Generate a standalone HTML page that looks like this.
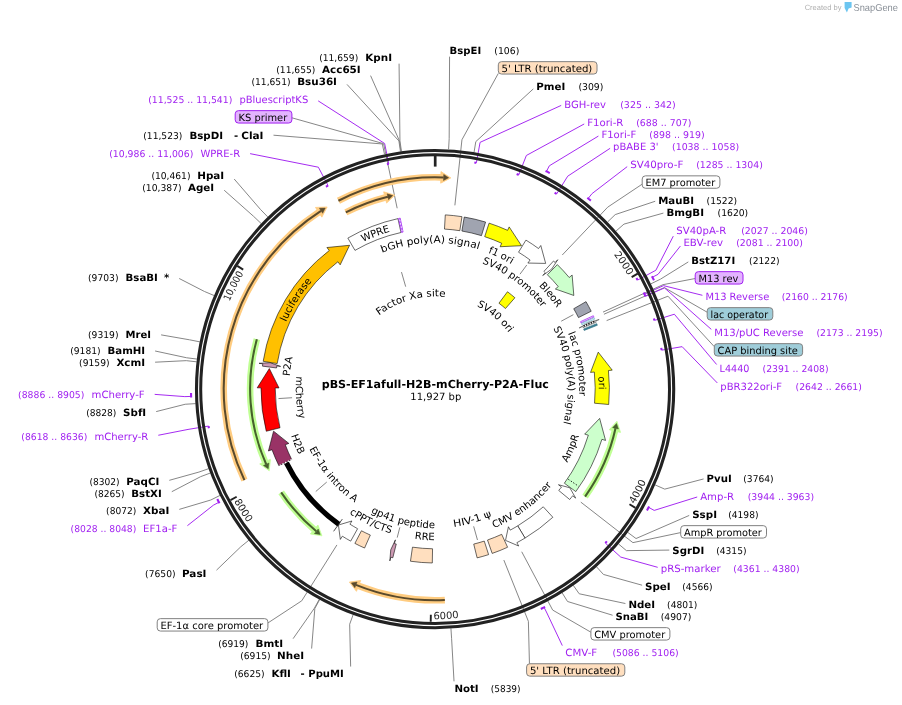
<!DOCTYPE html>
<html><head><meta charset="utf-8"><title>pBS-EF1afull-H2B-mCherry-P2A-Fluc</title>
<style>html,body{margin:0;padding:0;background:#fff}svg{display:block;will-change:transform}</style></head>
<body>
<svg width="902" height="705" viewBox="0 0 902 705" font-family='"DejaVu Sans","Liberation Sans",sans-serif' text-rendering="geometricPrecision">
<path d="M449.57 56.65L449.18 138.69L448.59 149.17" fill="none" stroke="#808080" stroke-width="0.95" stroke-linejoin="round"/>
<path d="M498.3 73.42L461.94 139.73L454.89 205.35" fill="none" stroke="#808080" stroke-width="0.95" stroke-linejoin="round"/>
<path d="M533.3 88.9L475.8 141.61L474.1 151.97" fill="none" stroke="#808080" stroke-width="0.95" stroke-linejoin="round"/>
<path d="M561.2 105.42L480.09 142.35L476.36 162.82" fill="none" stroke="#A020F0" stroke-width="0.95" stroke-linejoin="round"/>
<path d="M584.2 123.98L526.36 155.47L518.79 174.85" fill="none" stroke="#A020F0" stroke-width="0.95" stroke-linejoin="round"/>
<path d="M598.4 136.07L549.33 165.81L546.46 171.42" fill="none" stroke="#A020F0" stroke-width="0.95" stroke-linejoin="round"/>
<path d="M610.1 148.32L567.7 176.21L556.7 193.86" fill="none" stroke="#A020F0" stroke-width="0.95" stroke-linejoin="round"/>
<path d="M627.2 166.65L592.12 193.54L588.17 198.45" fill="none" stroke="#A020F0" stroke-width="0.95" stroke-linejoin="round"/>
<path d="M642.2 184.15L607.71 207.17L562.26 255.02" fill="none" stroke="#808080" stroke-width="0.95" stroke-linejoin="round"/>
<path d="M655.2 201.25L615.21 214.6L607.67 221.9" fill="none" stroke="#808080" stroke-width="0.95" stroke-linejoin="round"/>
<path d="M663.4 213.09L623.96 224.12L616.05 231.02" fill="none" stroke="#808080" stroke-width="0.95" stroke-linejoin="round"/>
<path d="M673.3 236.13L655.87 270.26L637.55 280.1" fill="none" stroke="#A020F0" stroke-width="0.95" stroke-linejoin="round"/>
<path d="M680.4 246.04L658.02 274.34L652.42 277.22" fill="none" stroke="#A020F0" stroke-width="0.95" stroke-linejoin="round"/>
<path d="M688.3 261.91L660.44 279.18L651 283.78" fill="none" stroke="#808080" stroke-width="0.95" stroke-linejoin="round"/>
<path d="M695.2 278.52L663.03 284.67L603.01 312.11" fill="none" stroke="#808080" stroke-width="0.95" stroke-linejoin="round"/>
<path d="M702.4 295.3L663.47 285.63L644.52 294.2" fill="none" stroke="#A020F0" stroke-width="0.95" stroke-linejoin="round"/>
<path d="M707.2 312.22L664.33 287.56L603.96 314.24" fill="none" stroke="#808080" stroke-width="0.95" stroke-linejoin="round"/>
<path d="M711.3 329.39L664.49 287.92L645.45 296.3" fill="none" stroke="#A020F0" stroke-width="0.95" stroke-linejoin="round"/>
<path d="M714.3 346.68L667.96 296.2L606.63 320.6" fill="none" stroke="#808080" stroke-width="0.95" stroke-linejoin="round"/>
<path d="M716.6 364.48L674.34 314.23L654.49 320.42" fill="none" stroke="#A020F0" stroke-width="0.95" stroke-linejoin="round"/>
<path d="M717.3 382.95L682.13 346.67L661.63 350.17" fill="none" stroke="#A020F0" stroke-width="0.95" stroke-linejoin="round"/>
<path d="M703.6 478.94L664.73 489.13L655.11 484.93" fill="none" stroke="#808080" stroke-width="0.95" stroke-linejoin="round"/>
<path d="M697.2 496.99L654.2 510.41L648.69 507.36" fill="none" stroke="#A020F0" stroke-width="0.95" stroke-linejoin="round"/>
<path d="M689.2 515.45L636.02 538.54L627.6 532.27" fill="none" stroke="#808080" stroke-width="0.95" stroke-linejoin="round"/>
<path d="M680.7 532.58L632.9 542.64L580.81 502.11" fill="none" stroke="#808080" stroke-width="0.95" stroke-linejoin="round"/>
<path d="M669.3 550.09L626.41 550.63L618.4 543.85" fill="none" stroke="#808080" stroke-width="0.95" stroke-linejoin="round"/>
<path d="M657.7 567.32L620.76 557.08L605.35 543.11" fill="none" stroke="#A020F0" stroke-width="0.95" stroke-linejoin="round"/>
<path d="M642.1 585.21L603.41 574.43L596.36 566.64" fill="none" stroke="#808080" stroke-width="0.95" stroke-linejoin="round"/>
<path d="M625.4 603.52L579.2 593.78L573.16 585.18" fill="none" stroke="#808080" stroke-width="0.95" stroke-linejoin="round"/>
<path d="M612.6 615.24L567.53 601.49L561.99 592.58" fill="none" stroke="#808080" stroke-width="0.95" stroke-linejoin="round"/>
<path d="M590.9 632.21L552.67 610.05L521.72 551.76" fill="none" stroke="#808080" stroke-width="0.95" stroke-linejoin="round"/>
<path d="M562.3 645.59L546.92 613.01L544.11 607.37" fill="none" stroke="#A020F0" stroke-width="0.95" stroke-linejoin="round"/>
<path d="M529.44 663.75L528.38 621.32L503.83 560.06" fill="none" stroke="#808080" stroke-width="0.95" stroke-linejoin="round"/>
<path d="M454.03 681.35L451.62 638.76L450.93 628.28" fill="none" stroke="#808080" stroke-width="0.95" stroke-linejoin="round"/>
<path d="M399.07 63.65L399.95 140.79L401.43 151.19" fill="none" stroke="#808080" stroke-width="0.95" stroke-linejoin="round"/>
<path d="M370.58 75.65L399.43 140.87L400.93 151.26" fill="none" stroke="#808080" stroke-width="0.95" stroke-linejoin="round"/>
<path d="M347 84.42L398.91 140.94L400.43 151.33" fill="none" stroke="#808080" stroke-width="0.95" stroke-linejoin="round"/>
<path d="M318.2 100.87L384.61 143.46L388.81 163.83" fill="none" stroke="#A020F0" stroke-width="0.95" stroke-linejoin="round"/>
<path d="M291.9 117.8L383.58 143.68L397.18 208.26" fill="none" stroke="#808080" stroke-width="0.95" stroke-linejoin="round"/>
<path d="M273.5 135.19L382.29 143.95L384.51 154.22" fill="none" stroke="#808080" stroke-width="0.95" stroke-linejoin="round"/>
<path d="M250.1 153.65L318.37 167.21L328.07 185.61" fill="none" stroke="#A020F0" stroke-width="0.95" stroke-linejoin="round"/>
<path d="M234.2 179.02L260.41 209.36L267.73 216.89" fill="none" stroke="#808080" stroke-width="0.95" stroke-linejoin="round"/>
<path d="M224.2 190.22L253.55 216.31L261.16 223.54" fill="none" stroke="#808080" stroke-width="0.95" stroke-linejoin="round"/>
<path d="M179.2 278.49L204.39 291.44L214.07 295.52" fill="none" stroke="#808080" stroke-width="0.95" stroke-linejoin="round"/>
<path d="M161.1 334.87L189.54 339.8L199.84 341.85" fill="none" stroke="#808080" stroke-width="0.95" stroke-linejoin="round"/>
<path d="M155.1 350.99L186.63 357.77L197.05 359.07" fill="none" stroke="#808080" stroke-width="0.95" stroke-linejoin="round"/>
<path d="M155.1 362.2L186.29 360.65L196.72 361.83" fill="none" stroke="#808080" stroke-width="0.95" stroke-linejoin="round"/>
<path d="M154.7 394.37L184.82 396.62L191.12 396.42" fill="none" stroke="#A020F0" stroke-width="0.95" stroke-linejoin="round"/>
<path d="M156.2 411.59L185.18 404.26L195.66 403.61" fill="none" stroke="#808080" stroke-width="0.95" stroke-linejoin="round"/>
<path d="M158.3 435.26L188.02 429.43L208.54 426.06" fill="none" stroke="#A020F0" stroke-width="0.95" stroke-linejoin="round"/>
<path d="M169.3 480.32L198.95 472.07L208.85 468.58" fill="none" stroke="#808080" stroke-width="0.95" stroke-linejoin="round"/>
<path d="M171.8 491.69L200.61 476.66L210.45 472.98" fill="none" stroke="#808080" stroke-width="0.95" stroke-linejoin="round"/>
<path d="M179.3 509.36L210.74 500.02L220.15 495.35" fill="none" stroke="#808080" stroke-width="0.95" stroke-linejoin="round"/>
<path d="M187.4 525.68L213.38 505.19L218.96 502.26" fill="none" stroke="#A020F0" stroke-width="0.95" stroke-linejoin="round"/>
<path d="M216.5 570.16L240.79 546.77L248.94 540.15" fill="none" stroke="#808080" stroke-width="0.95" stroke-linejoin="round"/>
<path d="M267.9 622.98L301.75 600.79L336.91 544.94" fill="none" stroke="#808080" stroke-width="0.95" stroke-linejoin="round"/>
<path d="M293.1 638.66L314.37 608.23L319.43 599.03" fill="none" stroke="#808080" stroke-width="0.95" stroke-linejoin="round"/>
<path d="M311.62 648.55L314.83 608.48L319.87 599.28" fill="none" stroke="#808080" stroke-width="0.95" stroke-linejoin="round"/>
<path d="M350.65 666.55L349.66 624.24L353.25 614.37" fill="none" stroke="#808080" stroke-width="0.95" stroke-linejoin="round"/>
<circle cx="435.09999999999997" cy="389.15000000000003" r="238.6" fill="none" stroke="#222" stroke-width="3.1"/>
<circle cx="435.09999999999997" cy="389.15000000000003" r="234.4" fill="none" stroke="#222" stroke-width="3.0"/>
<path d="M474.34 162.46A229.7 229.7 0 0 1 476.36 162.82" fill="none" stroke="#A020F0" stroke-width="2.1" stroke-linecap="butt"/>
<path d="M516.64 174.02A229.7 229.7 0 0 1 518.79 174.85" fill="none" stroke="#A020F0" stroke-width="2.1" stroke-linecap="butt"/>
<path d="M546.46 171.42A244.2 244.2 0 0 1 548.86 172.66" fill="none" stroke="#A020F0" stroke-width="2.1" stroke-linecap="square"/>
<path d="M554.64 192.59A229.7 229.7 0 0 1 556.7 193.86" fill="none" stroke="#A020F0" stroke-width="2.1" stroke-linecap="butt"/>
<path d="M588.17 198.45A244.2 244.2 0 0 1 590.07 199.99" fill="none" stroke="#A020F0" stroke-width="2.1" stroke-linecap="square"/>
<path d="M636.45 278.08A229.7 229.7 0 0 1 637.55 280.1" fill="none" stroke="#A020F0" stroke-width="2.1" stroke-linecap="butt"/>
<path d="M652.42 277.22A244.2 244.2 0 0 1 653.52 279.4" fill="none" stroke="#A020F0" stroke-width="2.1" stroke-linecap="square"/>
<path d="M643.71 292.44A229.7 229.7 0 0 1 644.52 294.2" fill="none" stroke="#A020F0" stroke-width="2.1" stroke-linecap="butt"/>
<path d="M644.37 293.87A229.7 229.7 0 0 1 645.45 296.3" fill="none" stroke="#A020F0" stroke-width="2.1" stroke-linecap="butt"/>
<path d="M653.87 318.46A229.7 229.7 0 0 1 654.49 320.42" fill="none" stroke="#A020F0" stroke-width="2.1" stroke-linecap="butt"/>
<path d="M661.23 347.91A229.7 229.7 0 0 1 661.63 350.17" fill="none" stroke="#A020F0" stroke-width="2.1" stroke-linecap="butt"/>
<path d="M648.69 507.36A244.2 244.2 0 0 1 647.49 509.49" fill="none" stroke="#A020F0" stroke-width="2.1" stroke-linecap="square"/>
<path d="M606.89 541.4A229.7 229.7 0 0 1 605.35 543.11" fill="none" stroke="#A020F0" stroke-width="2.1" stroke-linecap="butt"/>
<path d="M544.11 607.37A244.2 244.2 0 0 1 541.8 608.5" fill="none" stroke="#A020F0" stroke-width="2.1" stroke-linecap="square"/>
<path d="M386.92 164.23A229.7 229.7 0 0 1 388.81 163.83" fill="none" stroke="#A020F0" stroke-width="2.1" stroke-linecap="butt"/>
<path d="M325.94 186.75A229.7 229.7 0 0 1 328.07 185.61" fill="none" stroke="#A020F0" stroke-width="2.1" stroke-linecap="butt"/>
<path d="M191.12 396.42A244.2 244.2 0 0 1 191.05 393.98" fill="none" stroke="#A020F0" stroke-width="2.1" stroke-linecap="square"/>
<path d="M208.9 428.2A229.7 229.7 0 0 1 208.54 426.06" fill="none" stroke="#A020F0" stroke-width="2.1" stroke-linecap="butt"/>
<path d="M218.96 502.26A244.2 244.2 0 0 1 217.78 499.98" fill="none" stroke="#A020F0" stroke-width="2.1" stroke-linecap="square"/>
<path d="M435.2 166.6L435.2 155.8" stroke="#222" stroke-width="2.7"/>
<path d="M631.64 277.06L637.73 273.6" stroke="#222" stroke-width="1.9"/>
<path id="tk1" d="M524.67 183.99A223.5 223.5 0 0 1 627.97 275.7" fill="none"/>
<text font-size="10" fill="#222"><textPath href="#tk1" startOffset="100%" text-anchor="end">2000</textPath></text>
<path d="M629.46 504.3L635.47 507.88" stroke="#222" stroke-width="1.9"/>
<path id="tk2" d="M634.61 504.22A230.4 230.4 0 0 0 664.36 364.97" fill="none"/>
<text font-size="10" fill="#222"><textPath href="#tk2" startOffset="0">4000</textPath></text>
<path d="M430.85 614.76L430.72 621.76" stroke="#222" stroke-width="1.9"/>
<path id="tk3" d="M433.47 619.19A230.4 230.4 0 0 0 569.22 576.21" fill="none"/>
<text font-size="10" fill="#222"><textPath href="#tk3" startOffset="0">6000</textPath></text>
<path d="M236.65 496.75L230.5 500.09" stroke="#222" stroke-width="1.9"/>
<path id="tk4" d="M234.08 501.21A230.4 230.4 0 0 0 338.57 597.96" fill="none"/>
<text font-size="10" fill="#222"><textPath href="#tk4" startOffset="0">8000</textPath></text>
<path d="M243.2 269.59L237.25 265.89" stroke="#222" stroke-width="1.9"/>
<path id="tk5" d="M212.53 408.02A223.5 223.5 0 0 1 243.76 273.46" fill="none"/>
<text font-size="10" fill="#222" textLength="31.6" lengthAdjust="spacingAndGlyphs"><textPath href="#tk5" startOffset="100%" text-anchor="end" textLength="31.6" lengthAdjust="spacingAndGlyphs">10,000</textPath></text>
<path d="M244.42 480.1A211.5 211.5 0 0 1 318.68 212.29" fill="none" stroke="#FFCC80" stroke-width="6.6" stroke-linecap="butt"/>
<path d="M315.48 207.45L327.15 206.98L321.87 217.13Z" fill="#FFCC80" stroke="#FFCC80" stroke-width="0.8" stroke-linejoin="round"/>
<path d="M244.42 480.1A211.5 211.5 0 0 1 321.02 210.77" fill="none" stroke="#5a4a2c" stroke-width="2.05"/>
<path d="M319.4 208.24L325.26 208.12L322.64 213.29Z" fill="#5a4a2c" stroke="#5a4a2c" stroke-width="0.5" stroke-linejoin="miter"/>
<path d="M338.44 200.73A211.5 211.5 0 0 1 440.82 177.37" fill="none" stroke="#FFCC80" stroke-width="6.6" stroke-linecap="butt"/>
<path d="M440.97 171.58L450.8 177.88L440.66 183.17Z" fill="#FFCC80" stroke="#FFCC80" stroke-width="0.8" stroke-linejoin="round"/>
<path d="M338.44 200.73A211.5 211.5 0 0 1 443.61 177.47" fill="none" stroke="#5a4a2c" stroke-width="2.05"/>
<path d="M443.73 174.47L448.61 177.73L443.49 180.47Z" fill="#5a4a2c" stroke="#5a4a2c" stroke-width="0.5" stroke-linejoin="miter"/>
<path d="M345.82 212.35A197.8 197.8 0 0 1 385.14 197.44" fill="none" stroke="#FFCC80" stroke-width="6.6" stroke-linecap="butt"/>
<path d="M383.67 191.83L394.87 195.15L386.61 203.05Z" fill="#FFCC80" stroke="#FFCC80" stroke-width="0.8" stroke-linejoin="round"/>
<path d="M345.82 212.35A197.8 197.8 0 0 1 387.85 196.75" fill="none" stroke="#5a4a2c" stroke-width="2.05"/>
<path d="M387.14 193.84L392.72 195.61L388.57 199.66Z" fill="#5a4a2c" stroke="#5a4a2c" stroke-width="0.5" stroke-linejoin="miter"/>
<path d="M444.83 600.08A211.5 211.5 0 0 1 358.56 585.92" fill="none" stroke="#FFCC80" stroke-width="6.6" stroke-linecap="butt"/>
<path d="M356.46 591.33L349.33 582.08L360.66 580.52Z" fill="#FFCC80" stroke="#FFCC80" stroke-width="0.8" stroke-linejoin="round"/>
<path d="M444.83 600.08A211.5 211.5 0 0 1 355.95 584.89" fill="none" stroke="#5a4a2c" stroke-width="2.05"/>
<path d="M354.83 587.67L351.34 582.96L357.08 582.11Z" fill="#5a4a2c" stroke="#5a4a2c" stroke-width="0.5" stroke-linejoin="miter"/>
<path d="M585.08 496.56A184.6 184.6 0 0 0 614.89 431.07" fill="none" stroke="#C0FF94" stroke-width="6.6" stroke-linecap="butt"/>
<path d="M620.54 432.4L616.92 421.28L609.25 429.74Z" fill="#C0FF94" stroke="#C0FF94" stroke-width="0.8" stroke-linejoin="round"/>
<path d="M585.08 496.56A184.6 184.6 0 0 0 615.52 428.34" fill="none" stroke="#46602c" stroke-width="2.05"/>
<path d="M618.45 428.98L616.52 423.44L612.59 427.7Z" fill="#46602c" stroke="#46602c" stroke-width="0.5" stroke-linejoin="miter"/>
<path d="M281.16 492.33A185.6 185.6 0 0 0 314.17 529.51" fill="none" stroke="#C0FF94" stroke-width="6.6" stroke-linecap="butt"/>
<path d="M310.39 533.91L321.93 535.83L317.96 525.12Z" fill="#C0FF94" stroke="#C0FF94" stroke-width="0.8" stroke-linejoin="round"/>
<path d="M281.16 492.33A185.6 185.6 0 0 0 316.31 531.32" fill="none" stroke="#46602c" stroke-width="2.05"/>
<path d="M314.39 533.63L320.19 534.47L318.23 529.02Z" fill="#46602c" stroke="#46602c" stroke-width="0.5" stroke-linejoin="miter"/>
<path d="M256.86 339.22A185.1 185.1 0 0 0 265.05 461.68" fill="none" stroke="#C0FF94" stroke-width="6.6" stroke-linecap="butt"/>
<path d="M259.72 463.96L269.23 470.76L270.38 459.39Z" fill="#C0FF94" stroke="#C0FF94" stroke-width="0.8" stroke-linejoin="round"/>
<path d="M256.86 339.22A185.1 185.1 0 0 0 266.17 464.24" fill="none" stroke="#46602c" stroke-width="2.05"/>
<path d="M263.43 465.46L268.27 468.78L268.91 463.02Z" fill="#46602c" stroke="#46602c" stroke-width="0.5" stroke-linejoin="miter"/>
<path d="M445.29 214.89A174.2 174.2 0 0 1 461.98 216.67L459.8 230.7A160 160 0 0 0 444.47 229.07Z" fill="#FFDFBF" stroke="#000" stroke-opacity="0.58" stroke-width="1" stroke-linejoin="miter" />
<path d="M464.25 217.04A174.2 174.2 0 0 1 485.59 222.05L481.48 235.64A160 160 0 0 0 461.88 231.04Z" fill="#A0A4B0" stroke="#000" stroke-opacity="0.58" stroke-width="1" stroke-linejoin="miter" />
<path d="M489.09 223.14A174.2 174.2 0 0 1 507.59 230.35L509.17 226.9L521.49 245.7L500.11 246.73L501.69 243.27A160 160 0 0 0 484.69 236.65Z" fill="#FFFF00" stroke="#000" stroke-opacity="0.58" stroke-width="1" stroke-linejoin="miter"/>
<path d="M525.94 240.1A174.2 174.2 0 0 1 538.54 248.56L540.79 245.5L545.67 263.42L527.86 263.05L530.12 259.99A160 160 0 0 0 518.54 252.22Z" fill="#FFFFFF" stroke="#000" stroke-opacity="0.58" stroke-width="1" stroke-linejoin="miter"/>
<path d="M553.56 260.99A174.2 174.2 0 0 1 555.13 262.46L557.75 259.7L551.74 269.04L542.74 275.51L545.36 272.76A160 160 0 0 0 543.91 271.4Z" fill="#FFFFFF" stroke="#000" stroke-opacity="0.58" stroke-width="1" stroke-linejoin="miter"/>
<path d="M557.34 264.6A174.2 174.2 0 0 1 569.2 277.49L572.13 275.07L573.82 295.48L555.36 288.99L558.28 286.57A160 160 0 0 0 547.39 274.72Z" fill="#CCFFCC" stroke="#000" stroke-opacity="0.58" stroke-width="1" stroke-linejoin="miter"/>
<path d="M586.02 301.63A174.2 174.2 0 0 1 591.19 311.25L578.47 317.58A160 160 0 0 0 573.73 308.74Z" fill="#A0A4B0" stroke="#000" stroke-opacity="0.58" stroke-width="1" stroke-linejoin="miter" />
<path d="M593.33 315.72A174.2 174.2 0 0 1 593.94 317.06L581 322.91A160 160 0 0 0 580.44 321.68Z" fill="#EBD6FF" stroke="#A020F0" stroke-width="0.7" stroke-linejoin="miter" />
<path d="M594.24 317.73A174.2 174.2 0 0 1 594.84 319.07L581.82 324.75A160 160 0 0 0 581.28 323.52Z" fill="#E6F4F8" stroke="#6fb2c6" stroke-width="0.7" stroke-linejoin="miter" />
<path d="M596.2 322.28A174.2 174.2 0 0 0 595.67 321.01L599.17 319.53L588.61 322.56L579.09 328.01L582.59 326.54A160 160 0 0 1 583.08 327.7Z" fill="#FFFFFF" stroke="#000" stroke-opacity="0.58" stroke-width="0.7" stroke-linejoin="miter"/>
<path d="M583.51 326.15L594.93 321.32" stroke="#222" stroke-width="1.7" stroke-dasharray="1.5 1.1"/>
<path d="M596.75 323.64A174.2 174.2 0 0 1 597.4 325.26L584.18 330.44A160 160 0 0 0 583.58 328.95Z" fill="#3d8296" stroke="#2a6a7c" stroke-width="0.6" stroke-linejoin="miter" />
<path d="M608.69 404.49A174.2 174.2 0 0 0 608.44 370.54L612.22 370.14L598.23 352.15L590.54 372.42L594.32 372.03A160 160 0 0 1 594.55 403.21Z" fill="#FFFF00" stroke="#000" stroke-opacity="0.58" stroke-width="1" stroke-linejoin="miter"/>
<path d="M575.83 491.6A174.2 174.2 0 0 0 601.91 439.33L605.55 440.43L599.65 418.42L584.68 434.11L588.32 435.21A160 160 0 0 1 564.37 483.22Z" fill="#CCFFCC" stroke="#000" stroke-opacity="0.58" stroke-width="1" stroke-linejoin="miter"/>
<path d="M569.7 499.51A174.2 174.2 0 0 0 572.68 495.78L575.68 498.11L569.84 487.77L558.48 484.73L561.47 487.06A160 160 0 0 1 558.74 490.48Z" fill="#FFFFFF" stroke="#000" stroke-opacity="0.58" stroke-width="1" stroke-linejoin="miter"/>
<path d="M552.85 517.27A174.2 174.2 0 0 1 525.03 538.05L517.71 525.88A160 160 0 0 0 543.26 506.8Z" fill="#FFFFFF" stroke="#000" stroke-opacity="0.58" stroke-width="1" stroke-linejoin="miter" />
<path d="M525.03 538.05A174.2 174.2 0 0 1 516.89 542.66L518.67 546.02L505.52 540.38L508.45 526.76L510.23 530.12A160 160 0 0 0 517.71 525.88Z" fill="#FFFFFF" stroke="#000" stroke-opacity="0.58" stroke-width="1" stroke-linejoin="miter"/>
<path d="M507.59 547.25A174.2 174.2 0 0 1 492.18 553.42L487.53 540A160 160 0 0 0 501.69 534.33Z" fill="#FFDFBF" stroke="#000" stroke-opacity="0.58" stroke-width="1" stroke-linejoin="miter" />
<path d="M488.61 554.61A174.2 174.2 0 0 1 477.14 557.88L473.72 544.09A160 160 0 0 0 484.25 541.09Z" fill="#FFDFBF" stroke="#000" stroke-opacity="0.58" stroke-width="1" stroke-linejoin="miter" />
<path d="M432.31 562.98A174.2 174.2 0 0 1 410.46 561.23L412.48 547.18A160 160 0 0 0 432.55 548.78Z" fill="#FFDFBF" stroke="#000" stroke-opacity="0.58" stroke-width="1" stroke-linejoin="miter" />
<path d="M392.82 557.77A174.2 174.2 0 0 1 390.82 557.25L389.85 560.93L390.72 549.87L395.41 539.85L394.44 543.52A160 160 0 0 0 396.27 543.99Z" fill="#CC99B2" stroke="#000" stroke-opacity="0.58" stroke-width="1" stroke-linejoin="miter"/>
<path d="M364.57 548.04A174.2 174.2 0 0 1 354.89 543.38L361.44 530.78A160 160 0 0 0 370.32 535.06Z" fill="#FFDFBF" stroke="#000" stroke-opacity="0.58" stroke-width="1" stroke-linejoin="miter" />
<path d="M350.69 541.13A174.2 174.2 0 0 1 342.36 536.2L340.33 539.41L338.43 525.02L351.95 520.97L349.93 524.18A160 160 0 0 0 357.58 528.71Z" fill="#FFFFFF" stroke="#000" stroke-opacity="0.58" stroke-width="1" stroke-linejoin="miter"/>
<path d="M338.95 524.29A166.2 166.2 0 0 1 286.36 462.75" fill="none" stroke="#000" stroke-width="5.2"/>
<path d="M342.33 519.09L333.62 531.3" stroke="#222" stroke-width="0.8"/>
<path d="M278.95 465.81A174.2 174.2 0 0 1 271.99 449.68L268.43 451.01L273.55 431.14L288.85 443.39L285.29 444.72A160 160 0 0 0 291.68 459.53Z" fill="#993366" stroke="#000" stroke-opacity="0.58" stroke-width="1" stroke-linejoin="miter"/>
<path d="M291.68 459.53L278.95 465.81" stroke="#fff" stroke-width="1.3" stroke-dasharray="1.4 1.6"/>
<path d="M266.25 431.25A174.2 174.2 0 0 1 261 387.85L257.2 387.83L269.33 368.54L279 387.95L275.2 387.93A160 160 0 0 0 280.02 427.79Z" fill="#FF0000" stroke="#000" stroke-opacity="0.58" stroke-width="1" stroke-linejoin="miter"/>
<path d="M262.48 366.13A174.2 174.2 0 0 1 262.8 363.86L259.03 363.31L270.15 362.7L280.61 366.43L276.85 365.89A160 160 0 0 0 276.56 367.98Z" fill="#CC99B2" stroke="#000" stroke-opacity="0.58" stroke-width="1" stroke-linejoin="miter"/>
<path d="M263.18 361.32A174.2 174.2 0 0 1 329.23 250.54L326.92 247.53L349.59 245.29L340.18 264.83L337.87 261.81A160 160 0 0 0 277.2 363.56Z" fill="#FFC000" stroke="#000" stroke-opacity="0.58" stroke-width="1" stroke-linejoin="miter"/>
<path d="M347.86 238.08A174.2 174.2 0 0 1 397.96 218.63L400.99 232.5A160 160 0 0 0 354.98 250.37Z" fill="#FFFFFF" stroke="#000" stroke-opacity="0.58" stroke-width="1" stroke-linejoin="miter" />
<path d="M398.58 218.49A174.2 174.2 0 0 1 400.2 218.15L403.05 232.06A160 160 0 0 0 401.57 232.37Z" fill="#C890FF" stroke="#A020F0" stroke-width="0.8" stroke-linejoin="miter" />
<path d="M402.11 231.24L399.6 219.3" stroke="#f0e0ff" stroke-width="1.1" stroke-dasharray="1.6 1.8"/>
<path d="M507.47 291.75A121 121 0 0 1 514.9 297.76L505.48 308.52A106.7 106.7 0 0 0 498.93 303.22Z" fill="#FFFF00" stroke="#000" stroke-opacity="0.58" stroke-width="1" stroke-linejoin="miter" />
<path d="M568.35 479.31L578.44 486.17" stroke="#000" stroke-width="1" stroke-dasharray="1.2 1.8"/>
<text x="449.6" y="53.8" font-size="10" fill="#000" font-weight="bold" textLength="31.6" lengthAdjust="spacingAndGlyphs">BspEI</text>
<text x="494.3" y="53.8" font-size="9.33" fill="#000" textLength="25" lengthAdjust="spacingAndGlyphs">(106)</text>
<rect x="498.3" y="61.65" width="98.7" height="12.4" rx="3.2" fill="#FFDFBF" stroke="#808080" stroke-width="1"/>
<text x="501.6" y="71.6" font-size="10" fill="#000" textLength="90.7" lengthAdjust="spacingAndGlyphs">5' LTR (truncated)</text>
<text x="536.3" y="89.8" font-size="10" fill="#000" font-weight="bold" textLength="29" lengthAdjust="spacingAndGlyphs">PmeI</text>
<text x="578.4" y="89.8" font-size="9.33" fill="#000" textLength="25" lengthAdjust="spacingAndGlyphs">(309)</text>
<text x="564.2" y="107.7" font-size="10" fill="#A020F0" textLength="41.8" lengthAdjust="spacingAndGlyphs">BGH-rev</text>
<text x="620.2" y="107.7" font-size="9.33" fill="#A020F0" textLength="55.4" lengthAdjust="spacingAndGlyphs">(325 .. 342)</text>
<text x="587.2" y="126" font-size="10" fill="#A020F0" textLength="36.2" lengthAdjust="spacingAndGlyphs">F1ori-R</text>
<text x="636.2" y="126" font-size="9.33" fill="#A020F0" textLength="55.3" lengthAdjust="spacingAndGlyphs">(688 .. 707)</text>
<text x="601.4" y="137.9" font-size="10" fill="#A020F0" textLength="34.8" lengthAdjust="spacingAndGlyphs">F1ori-F</text>
<text x="649.3" y="137.9" font-size="9.33" fill="#A020F0" textLength="55.4" lengthAdjust="spacingAndGlyphs">(898 .. 919)</text>
<text x="613.1" y="150" font-size="10" fill="#A020F0" textLength="45.4" lengthAdjust="spacingAndGlyphs">pBABE 3'</text>
<text x="672" y="150" font-size="9.33" fill="#A020F0" textLength="67.1" lengthAdjust="spacingAndGlyphs">(1038 .. 1058)</text>
<text x="630.2" y="168" font-size="10" fill="#A020F0" textLength="53.2" lengthAdjust="spacingAndGlyphs">SV40pro-F</text>
<text x="696.2" y="168" font-size="9.33" fill="#A020F0" textLength="66.6" lengthAdjust="spacingAndGlyphs">(1285 .. 1304)</text>
<rect x="642.2" y="175.85" width="77.7" height="12.4" rx="3.2" fill="#FFFFFF" stroke="#808080" stroke-width="1"/>
<text x="645.5" y="185.8" font-size="10" fill="#000" textLength="69.7" lengthAdjust="spacingAndGlyphs">EM7 promoter</text>
<text x="658.2" y="203.9" font-size="10" fill="#000" font-weight="bold" textLength="35.8" lengthAdjust="spacingAndGlyphs">MauBI</text>
<text x="706.6" y="203.9" font-size="9.33" fill="#000" textLength="30.5" lengthAdjust="spacingAndGlyphs">(1522)</text>
<text x="666.4" y="215.9" font-size="10" fill="#000" font-weight="bold" textLength="37.6" lengthAdjust="spacingAndGlyphs">BmgBI</text>
<text x="717.6" y="215.9" font-size="9.33" fill="#000" textLength="30.6" lengthAdjust="spacingAndGlyphs">(1620)</text>
<text x="676.3" y="233.9" font-size="10" fill="#A020F0" textLength="50" lengthAdjust="spacingAndGlyphs">SV40pA-R</text>
<text x="741.2" y="233.9" font-size="9.33" fill="#A020F0" textLength="66.7" lengthAdjust="spacingAndGlyphs">(2027 .. 2046)</text>
<text x="683.4" y="245.9" font-size="10" fill="#A020F0" textLength="39.7" lengthAdjust="spacingAndGlyphs">EBV-rev</text>
<text x="736.2" y="245.9" font-size="9.33" fill="#A020F0" textLength="66.7" lengthAdjust="spacingAndGlyphs">(2081 .. 2100)</text>
<text x="691.3" y="263.7" font-size="10" fill="#000" font-weight="bold" textLength="43.9" lengthAdjust="spacingAndGlyphs">BstZ17I</text>
<text x="749.1" y="263.7" font-size="9.33" fill="#000" textLength="30.5" lengthAdjust="spacingAndGlyphs">(2122)</text>
<rect x="695.2" y="271.65" width="47.8" height="12.4" rx="3.2" fill="#E3B3FF" stroke="#A020F0" stroke-width="1"/>
<text x="698.5" y="281.6" font-size="10" fill="#000" textLength="39.8" lengthAdjust="spacingAndGlyphs">M13 rev</text>
<text x="705.4" y="299.7" font-size="10" fill="#A020F0" textLength="63.9" lengthAdjust="spacingAndGlyphs">M13 Reverse</text>
<text x="781.7" y="299.7" font-size="9.33" fill="#A020F0" textLength="66" lengthAdjust="spacingAndGlyphs">(2160 .. 2176)</text>
<rect x="707.2" y="307.65" width="65.6" height="12.4" rx="3.2" fill="#9FCDD9" stroke="#808080" stroke-width="1"/>
<text x="710.5" y="317.6" font-size="10" fill="#000" textLength="57.6" lengthAdjust="spacingAndGlyphs">lac operator</text>
<text x="714.3" y="335.7" font-size="10" fill="#A020F0" textLength="89.1" lengthAdjust="spacingAndGlyphs">M13/pUC Reverse</text>
<text x="816.5" y="335.7" font-size="9.33" fill="#A020F0" textLength="66" lengthAdjust="spacingAndGlyphs">(2173 .. 2195)</text>
<rect x="714.3" y="343.65" width="88.3" height="12.4" rx="3.2" fill="#9FCDD9" stroke="#808080" stroke-width="1"/>
<text x="717.6" y="353.6" font-size="10" fill="#000" textLength="80.3" lengthAdjust="spacingAndGlyphs">CAP binding site</text>
<text x="719.6" y="371.7" font-size="10" fill="#A020F0" textLength="29.8" lengthAdjust="spacingAndGlyphs">L4440</text>
<text x="762.6" y="371.7" font-size="9.33" fill="#A020F0" textLength="65.9" lengthAdjust="spacingAndGlyphs">(2391 .. 2408)</text>
<text x="720.3" y="389.7" font-size="10" fill="#A020F0" textLength="61.8" lengthAdjust="spacingAndGlyphs">pBR322ori-F</text>
<text x="795.6" y="389.7" font-size="9.33" fill="#A020F0" textLength="66.3" lengthAdjust="spacingAndGlyphs">(2642 .. 2661)</text>
<text x="706.6" y="481.8" font-size="10" fill="#000" font-weight="bold" textLength="25.1" lengthAdjust="spacingAndGlyphs">PvuI</text>
<text x="743.3" y="481.8" font-size="9.33" fill="#000" textLength="30.4" lengthAdjust="spacingAndGlyphs">(3764)</text>
<text x="700.2" y="499.7" font-size="10" fill="#A020F0" textLength="33.9" lengthAdjust="spacingAndGlyphs">Amp-R</text>
<text x="747.7" y="499.7" font-size="9.33" fill="#A020F0" textLength="66.4" lengthAdjust="spacingAndGlyphs">(3944 .. 3963)</text>
<text x="692.2" y="517.8" font-size="10" fill="#000" font-weight="bold" textLength="24.8" lengthAdjust="spacingAndGlyphs">SspI</text>
<text x="728.2" y="517.8" font-size="9.33" fill="#000" textLength="30.3" lengthAdjust="spacingAndGlyphs">(4198)</text>
<rect x="680.7" y="525.65" width="85.8" height="12.4" rx="3.2" fill="#FFFFFF" stroke="#808080" stroke-width="1"/>
<text x="684" y="535.6" font-size="10" fill="#000" textLength="77.8" lengthAdjust="spacingAndGlyphs">AmpR promoter</text>
<text x="672.3" y="553.7" font-size="10" fill="#000" font-weight="bold" textLength="31.9" lengthAdjust="spacingAndGlyphs">SgrDI</text>
<text x="716.2" y="553.7" font-size="9.33" fill="#000" textLength="30.3" lengthAdjust="spacingAndGlyphs">(4315)</text>
<text x="660.7" y="571.8" font-size="10" fill="#A020F0" textLength="59.9" lengthAdjust="spacingAndGlyphs">pRS-marker</text>
<text x="733.3" y="571.8" font-size="9.33" fill="#A020F0" textLength="66.3" lengthAdjust="spacingAndGlyphs">(4361 .. 4380)</text>
<text x="645.1" y="589.7" font-size="10" fill="#000" font-weight="bold" textLength="25.6" lengthAdjust="spacingAndGlyphs">SpeI</text>
<text x="682.3" y="589.7" font-size="9.33" fill="#000" textLength="30.3" lengthAdjust="spacingAndGlyphs">(4566)</text>
<text x="628.4" y="607.8" font-size="10" fill="#000" font-weight="bold" textLength="26.7" lengthAdjust="spacingAndGlyphs">NdeI</text>
<text x="667.1" y="607.8" font-size="9.33" fill="#000" textLength="30.3" lengthAdjust="spacingAndGlyphs">(4801)</text>
<text x="615.6" y="619.8" font-size="10" fill="#000" font-weight="bold" textLength="32.7" lengthAdjust="spacingAndGlyphs">SnaBI</text>
<text x="660.7" y="619.8" font-size="9.33" fill="#000" textLength="30.7" lengthAdjust="spacingAndGlyphs">(4907)</text>
<rect x="590.9" y="627.65" width="79" height="12.4" rx="3.2" fill="#FFFFFF" stroke="#808080" stroke-width="1"/>
<text x="594.2" y="637.6" font-size="10" fill="#000" textLength="71" lengthAdjust="spacingAndGlyphs">CMV promoter</text>
<text x="565.3" y="655.6" font-size="10" fill="#A020F0" textLength="31.9" lengthAdjust="spacingAndGlyphs">CMV-F</text>
<text x="612.4" y="655.6" font-size="9.33" fill="#A020F0" textLength="66.3" lengthAdjust="spacingAndGlyphs">(5086 .. 5106)</text>
<rect x="526.6" y="663.75" width="98.2" height="12.4" rx="3.2" fill="#FFDFBF" stroke="#808080" stroke-width="1"/>
<text x="529.9" y="673.7" font-size="10" fill="#000" textLength="90.2" lengthAdjust="spacingAndGlyphs">5' LTR (truncated)</text>
<text x="454.4" y="691.5" font-size="10" fill="#000" font-weight="bold" textLength="24.3" lengthAdjust="spacingAndGlyphs">NotI</text>
<text x="490.7" y="691.5" font-size="9.33" fill="#000" textLength="29.9" lengthAdjust="spacingAndGlyphs">(5839)</text>
<text x="319.2" y="60.8" font-size="9.33" fill="#000" textLength="39" lengthAdjust="spacingAndGlyphs">(11,659)</text>
<text x="365.3" y="60.8" font-size="10" fill="#000" font-weight="bold" textLength="26.7" lengthAdjust="spacingAndGlyphs">KpnI</text>
<text x="276.3" y="72.8" font-size="9.33" fill="#000" textLength="39" lengthAdjust="spacingAndGlyphs">(11,655)</text>
<text x="322.1" y="72.8" font-size="10" fill="#000" font-weight="bold" textLength="38.6" lengthAdjust="spacingAndGlyphs">Acc65I</text>
<text x="251.5" y="84.8" font-size="9.33" fill="#000" textLength="39" lengthAdjust="spacingAndGlyphs">(11,651)</text>
<text x="297.2" y="84.8" font-size="10" fill="#000" font-weight="bold" textLength="39.8" lengthAdjust="spacingAndGlyphs">Bsu36I</text>
<text x="148.2" y="102.6" font-size="9.33" fill="#A020F0" textLength="84.1" lengthAdjust="spacingAndGlyphs">(11,525 .. 11,541)</text>
<text x="239.4" y="102.6" font-size="10" fill="#A020F0" textLength="68.8" lengthAdjust="spacingAndGlyphs">pBluescriptKS</text>
<rect x="235.2" y="110.65" width="56.7" height="12.4" rx="3.2" fill="#E3B3FF" stroke="#A020F0" stroke-width="1"/>
<text x="238.5" y="120.6" font-size="10" fill="#000" textLength="48.7" lengthAdjust="spacingAndGlyphs">KS primer</text>
<text x="143.3" y="138.6" font-size="9.33" fill="#000" textLength="39" lengthAdjust="spacingAndGlyphs">(11,523)</text>
<text x="189.4" y="138.6" font-size="10" fill="#000" font-weight="bold" textLength="33.7" lengthAdjust="spacingAndGlyphs">BspDI</text>
<text x="234.1" y="138.6" font-size="10" fill="#000" font-weight="bold">-</text>
<text x="241.2" y="138.6" font-size="10" fill="#000" font-weight="bold" textLength="22.3" lengthAdjust="spacingAndGlyphs">ClaI</text>
<text x="109.2" y="156.7" font-size="9.33" fill="#A020F0" textLength="84.1" lengthAdjust="spacingAndGlyphs">(10,986 .. 11,006)</text>
<text x="200.4" y="156.7" font-size="10" fill="#A020F0" textLength="39.7" lengthAdjust="spacingAndGlyphs">WPRE-R</text>
<text x="151.4" y="179.2" font-size="9.33" fill="#000" textLength="39.1" lengthAdjust="spacingAndGlyphs">(10,461)</text>
<text x="197.2" y="179.2" font-size="10" fill="#000" font-weight="bold" textLength="27" lengthAdjust="spacingAndGlyphs">HpaI</text>
<text x="142.2" y="191.2" font-size="9.33" fill="#000" textLength="39.4" lengthAdjust="spacingAndGlyphs">(10,387)</text>
<text x="188" y="191.2" font-size="10" fill="#000" font-weight="bold" textLength="26.2" lengthAdjust="spacingAndGlyphs">AgeI</text>
<text x="88" y="280.6" font-size="9.33" fill="#000" textLength="30.5" lengthAdjust="spacingAndGlyphs">(9703)</text>
<text x="125.6" y="280.6" font-size="10" fill="#000" font-weight="bold" textLength="32.3" lengthAdjust="spacingAndGlyphs">BsaBI</text>
<text x="163.9" y="280.6" font-size="10" fill="#000" font-weight="bold" textLength="5.3" lengthAdjust="spacingAndGlyphs">*</text>
<text x="88" y="338" font-size="9.33" fill="#000" textLength="30.5" lengthAdjust="spacingAndGlyphs">(9319)</text>
<text x="125.6" y="338" font-size="10" fill="#000" font-weight="bold" textLength="25.5" lengthAdjust="spacingAndGlyphs">MreI</text>
<text x="70.2" y="354" font-size="9.33" fill="#000" textLength="30.5" lengthAdjust="spacingAndGlyphs">(9181)</text>
<text x="107.5" y="354" font-size="10" fill="#000" font-weight="bold" textLength="37.6" lengthAdjust="spacingAndGlyphs">BamHI</text>
<text x="79.1" y="366" font-size="9.33" fill="#000" textLength="30.5" lengthAdjust="spacingAndGlyphs">(9159)</text>
<text x="116.4" y="366" font-size="10" fill="#000" font-weight="bold" textLength="28.7" lengthAdjust="spacingAndGlyphs">XcmI</text>
<text x="18.1" y="397.8" font-size="9.33" fill="#A020F0" textLength="66.3" lengthAdjust="spacingAndGlyphs">(8886 .. 8905)</text>
<text x="91.5" y="397.8" font-size="10" fill="#A020F0" textLength="53.2" lengthAdjust="spacingAndGlyphs">mCherry-F</text>
<text x="86.2" y="416" font-size="9.33" fill="#000" textLength="30.2" lengthAdjust="spacingAndGlyphs">(8828)</text>
<text x="123.1" y="416" font-size="10" fill="#000" font-weight="bold" textLength="23.1" lengthAdjust="spacingAndGlyphs">SbfI</text>
<text x="21.3" y="439.5" font-size="9.33" fill="#A020F0" textLength="66" lengthAdjust="spacingAndGlyphs">(8618 .. 8636)</text>
<text x="94.4" y="439.5" font-size="10" fill="#A020F0" textLength="53.9" lengthAdjust="spacingAndGlyphs">mCherry-R</text>
<text x="89.4" y="484.8" font-size="9.33" fill="#000" textLength="30.2" lengthAdjust="spacingAndGlyphs">(8302)</text>
<text x="126.3" y="484.8" font-size="10" fill="#000" font-weight="bold" textLength="33" lengthAdjust="spacingAndGlyphs">PaqCI</text>
<text x="94.4" y="496.9" font-size="9.33" fill="#000" textLength="30.2" lengthAdjust="spacingAndGlyphs">(8265)</text>
<text x="131.3" y="496.9" font-size="10" fill="#000" font-weight="bold" textLength="30.5" lengthAdjust="spacingAndGlyphs">BstXI</text>
<text x="106.1" y="513.9" font-size="9.33" fill="#000" textLength="30.2" lengthAdjust="spacingAndGlyphs">(8072)</text>
<text x="143" y="513.9" font-size="10" fill="#000" font-weight="bold" textLength="26.3" lengthAdjust="spacingAndGlyphs">XbaI</text>
<text x="70.6" y="531.7" font-size="9.33" fill="#A020F0" textLength="65.7" lengthAdjust="spacingAndGlyphs">(8028 .. 8048)</text>
<text x="143" y="531.7" font-size="10" fill="#A020F0" textLength="34.4" lengthAdjust="spacingAndGlyphs">EF1a-F</text>
<text x="145.1" y="576.7" font-size="9.33" fill="#000" textLength="30.5" lengthAdjust="spacingAndGlyphs">(7650)</text>
<text x="182" y="576.7" font-size="10" fill="#000" font-weight="bold" textLength="24.5" lengthAdjust="spacingAndGlyphs">PasI</text>
<rect x="157.2" y="618.65" width="110.7" height="12.4" rx="3.2" fill="#FFFFFF" stroke="#808080" stroke-width="1"/>
<text x="160.5" y="628.6" font-size="10" fill="#000" textLength="102.7" lengthAdjust="spacingAndGlyphs">EF-1α core promoter</text>
<text x="218.2" y="646.6" font-size="9.33" fill="#000" textLength="30.2" lengthAdjust="spacingAndGlyphs">(6919)</text>
<text x="255.5" y="646.6" font-size="10" fill="#000" font-weight="bold" textLength="27.6" lengthAdjust="spacingAndGlyphs">BmtI</text>
<text x="240.2" y="658.7" font-size="9.33" fill="#000" textLength="30.5" lengthAdjust="spacingAndGlyphs">(6915)</text>
<text x="277.1" y="658.7" font-size="10" fill="#000" font-weight="bold" textLength="27" lengthAdjust="spacingAndGlyphs">NheI</text>
<text x="234.2" y="676.7" font-size="9.33" fill="#000" textLength="30.5" lengthAdjust="spacingAndGlyphs">(6625)</text>
<text x="271.4" y="676.7" font-size="10" fill="#000" font-weight="bold" textLength="19.5" lengthAdjust="spacingAndGlyphs">KflI</text>
<text x="300.5" y="676.7" font-size="10" fill="#000" font-weight="bold">-</text>
<text x="308.3" y="676.7" font-size="10" fill="#000" font-weight="bold" textLength="35.5" lengthAdjust="spacingAndGlyphs">PpuMI</text>
<text x="435.3" y="387.9" font-size="11.1" font-weight="bold" text-anchor="middle" fill="#000">pBS-EF1afull-H2B-mCherry-P2A-Fluc</text>
<text x="435.8" y="400.0" font-size="10" text-anchor="middle" fill="#000">11,927 bp</text>
<text x="804.7" y="10.2" font-size="7.6" fill="#b0b0b0" font-family='"Liberation Sans",sans-serif' textLength="36.8" lengthAdjust="spacingAndGlyphs">Created by</text>
<path d="M844.6 2h7v5.6l-3 1l-1.7 3.8l-2.3 -4.4z" fill="#6cc5f0"/>
<text x="853.5" y="11.0" font-size="10" fill="#8a9098" font-family='"Liberation Sans",sans-serif' textLength="44.4" lengthAdjust="spacingAndGlyphs">SnapGene</text>
<path id="tp1" d="M279.27 437.96A163.5 163.5 0 0 1 583.74 320.48" fill="none"/>
<text font-size="10" fill="#000" ><textPath href="#tp1" startOffset="50%" text-anchor="middle">WPRE</textPath></text>
<path id="tp2" d="M289.26 384.7A146 146 0 0 1 580.51 374.57" fill="none"/>
<text font-size="10" fill="#000"  textLength="98.5" lengthAdjust="spacingAndGlyphs"><textPath href="#tp2" startOffset="50%" text-anchor="middle" textLength="98.5" lengthAdjust="spacingAndGlyphs">bGH poly(A) signal</textPath></text>
<path id="tp3" d="M308.62 316.04A146 146 0 0 1 569.9 445.12" fill="none"/>
<text font-size="10" fill="#000" ><textPath href="#tp3" startOffset="50%" text-anchor="middle">f1 ori</textPath></text>
<path id="tp4" d="M332.82 302.34A134 134 0 0 1 547.6 461.75" fill="none"/>
<text font-size="10" fill="#000" ><textPath href="#tp4" startOffset="50%" text-anchor="middle">SV40 promoter</textPath></text>
<path id="tp5" d="M350.27 270.04A146 146 0 0 1 534.34 495.98" fill="none"/>
<text font-size="10" fill="#000" ><textPath href="#tp5" startOffset="50%" text-anchor="middle">BleoR</textPath></text>
<path id="tp6" d="M367.87 325.37A92.5 92.5 0 0 1 509.95 443.29" fill="none"/>
<text font-size="10" fill="#000" ><textPath href="#tp6" startOffset="50%" text-anchor="middle">SV40 ori</textPath></text>
<path id="tp7" d="M344.82 408.02A92.4 92.4 0 0 1 522.46 358.41" fill="none"/>
<text font-size="10" fill="#000"  textLength="70.5" lengthAdjust="spacingAndGlyphs"><textPath href="#tp7" startOffset="50%" text-anchor="middle" textLength="70.5" lengthAdjust="spacingAndGlyphs">Factor Xa site</textPath></text>
<path id="tp8" d="M419.34 245.68A144 144 0 0 1 468.87 528.81" fill="none"/>
<text font-size="10" fill="#000" ><textPath href="#tp8" startOffset="50%" text-anchor="middle">lac promoter</textPath></text>
<path id="tp9" d="M429.72 256.31A132.6 132.6 0 0 1 457.24 519.56" fill="none"/>
<text font-size="10" fill="#000" ><textPath href="#tp9" startOffset="50%" text-anchor="middle">SV40 poly(A) signal</textPath></text>
<path id="tp10" d="M439.72 225.36A163.5 163.5 0 0 1 451.2 551.52" fill="none"/>
<text font-size="10" fill="#000" ><textPath href="#tp10" startOffset="50%" text-anchor="middle">ori</textPath></text>
<path id="tp11" d="M383.39 531.06A151.4 151.4 0 0 0 504.43 254.16" fill="none"/>
<text font-size="10" fill="#000" ><textPath href="#tp11" startOffset="50%" text-anchor="middle">AmpR</textPath></text>
<path id="tp12" d="M319.61 486.58A151.4 151.4 0 0 0 562.13 306.28" fill="none"/>
<text font-size="10" fill="#000" ><textPath href="#tp12" startOffset="50%" text-anchor="middle">CMV enhancer</textPath></text>
<path id="tp13" d="M303.72 435.11A139.4 139.4 0 0 0 571.45 359.34" fill="none"/>
<text font-size="10" fill="#000"  textLength="40" lengthAdjust="spacingAndGlyphs"><textPath href="#tp13" startOffset="50%" text-anchor="middle" textLength="40" lengthAdjust="spacingAndGlyphs">HIV-1 ψ</textPath></text>
<path id="tp14" d="M283.8 387.74A151.4 151.4 0 0 0 585.27 408.82" fill="none"/>
<text font-size="10" fill="#000" ><textPath href="#tp14" startOffset="50%" text-anchor="middle">RRE</textPath></text>
<path id="tp15" d="M298.03 363.95A139.4 139.4 0 0 0 568.17 430.65" fill="none"/>
<text font-size="10" fill="#000" ><textPath href="#tp15" startOffset="50%" text-anchor="middle">gp41 peptide</textPath></text>
<path id="tp16" d="M294.99 331.69A151.4 151.4 0 0 0 567.15 463.03" fill="none"/>
<text font-size="10" fill="#000" ><textPath href="#tp16" startOffset="50%" text-anchor="middle">cPPT/CTS</textPath></text>
<path id="tp17" d="M338.91 288A139.4 139.4 0 0 0 518.1 500.87" fill="none"/>
<text font-size="10" fill="#000" ><textPath href="#tp17" startOffset="50%" text-anchor="middle">EF-1α intron A</textPath></text>
<path id="tp18" d="M370.11 252.1A151.4 151.4 0 0 0 482.64 532.58" fill="none"/>
<text font-size="10" fill="#000" ><textPath href="#tp18" startOffset="50%" text-anchor="middle">H2B</textPath></text>
<path id="tp19" d="M417.51 250.53A139.4 139.4 0 0 0 435.42 528.2" fill="none"/>
<text font-size="10" fill="#000" ><textPath href="#tp19" startOffset="50%" text-anchor="middle">mCherry</textPath></text>
<path id="tp20" d="M404.13 531.46A146 146 0 0 1 448.14 243.37" fill="none"/>
<text font-size="10" fill="#000" ><textPath href="#tp20" startOffset="50%" text-anchor="middle">P2A</textPath></text>
<path id="tp21" d="M338.66 520.75A163.5 163.5 0 0 1 514.44 245.79" fill="none"/>
<text font-size="10" fill="#000" ><textPath href="#tp21" startOffset="50%" text-anchor="middle">luciferase</textPath></text>
<path d="M526.79 264.99L520.01 274.16" stroke="#808080" stroke-width="0.95"/>
<path d="M573.37 314.67L561.21 321.19" stroke="#808080" stroke-width="0.95"/>
<path d="M473.65 526.33L477.47 540" stroke="#808080" stroke-width="0.95"/>
<path d="M399.83 527.36L397.2 537.63" stroke="#808080" stroke-width="0.95"/>
<path d="M326.78 482.04L315.78 491.5" stroke="#808080" stroke-width="0.95"/>
<path d="M292.08 397.73L278.5 398.57" stroke="#808080" stroke-width="0.95"/>
<path d="M401.47 272.08L405.69 286.68" stroke="#808080" stroke-width="0.95"/>
</svg>
</body></html>
